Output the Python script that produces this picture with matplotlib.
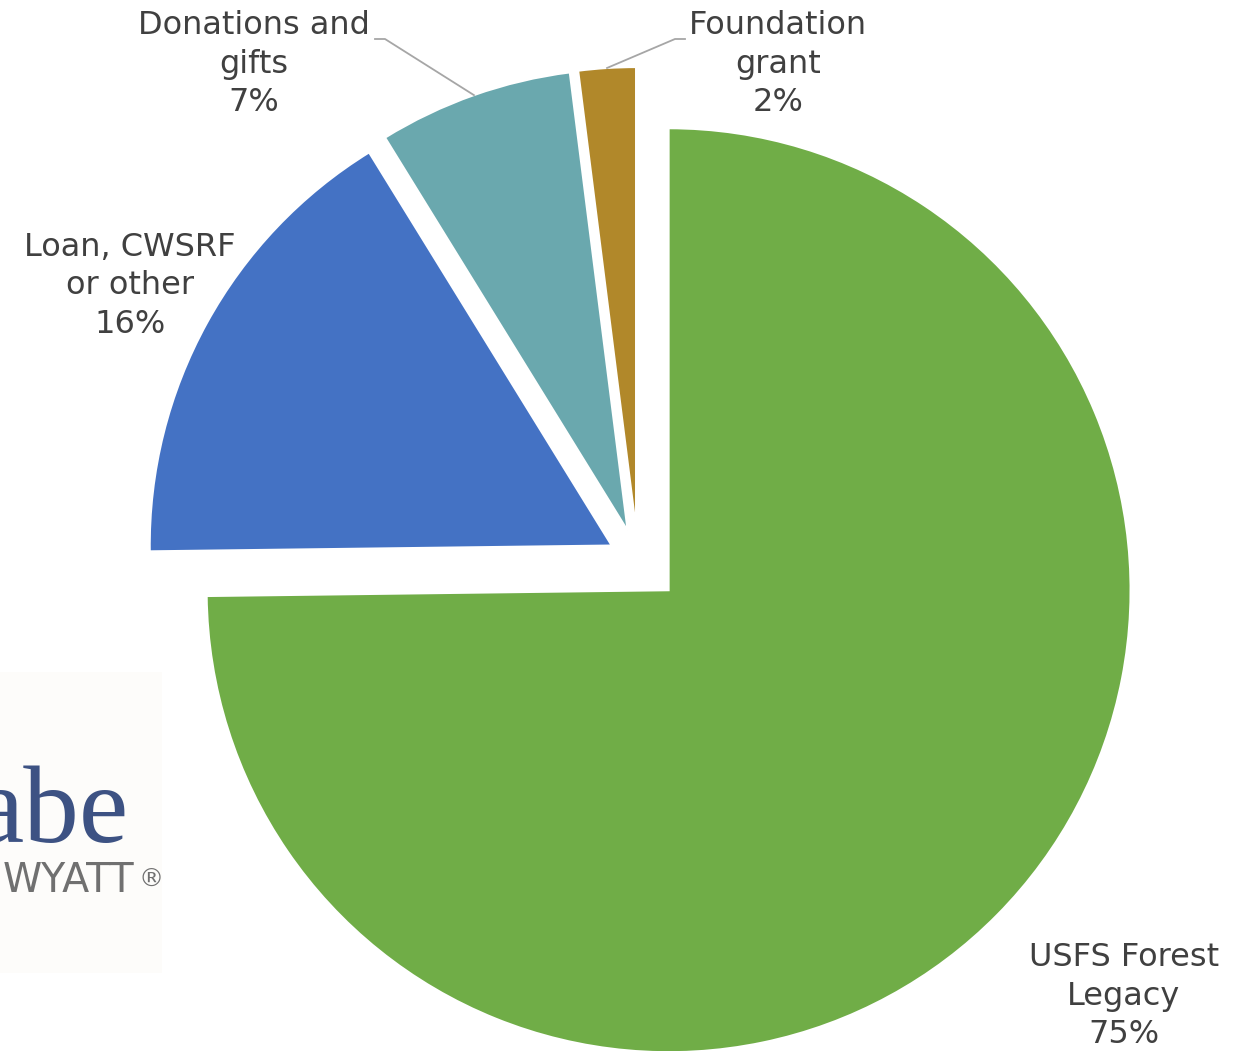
import numpy as np
import matplotlib
matplotlib.use("Agg")
import matplotlib.pyplot as plt
from matplotlib.patches import Rectangle

# funding sources (share of total, %)
labels = ["USFS Forest\nLegacy", "Loan, CWSRF\nor other", "Donations and\ngifts", "Foundation\ngrant"]
values = [74.8, 16.4, 6.8, 2.0]
pct_text = ["75%", "16%", "7%", "2%"]
colors = ["#70AD47", "#4472C4", "#6AA8AE", "#B1882A"]

W, H = 1250, 1051
R = 462
explode_px = [43, 30, 31, 31]   # pie explode is in data units (= px here)

fig = plt.figure(figsize=(12.5, 10.51), dpi=100)
ax = fig.add_axes([0, 0, 1, 1])

# faint logo backdrop + cut-off logo text
ax.add_patch(Rectangle((0, H - 973), 162, 301, facecolor="#FDFCFA", edgecolor="none", zorder=0))
ax.text(128, H - 842, "abe", family=["Liberation Serif", "DejaVu Serif"], fontsize=80,
        color="#3D5283", ha="right", va="baseline", zorder=1)
ax.text(3, H - 892, "WYATT", family=["DejaVu Sans"], fontsize=28.5, color="#707070",
        ha="left", va="baseline", zorder=1)
ax.text(151, H - 880, "\u00ae", family=["DejaVu Sans"], fontsize=18, color="#707070",
        ha="center", va="center", zorder=1)

wedges, _ = ax.pie(values, explode=explode_px, colors=colors,
                   startangle=90, counterclock=False, radius=R, center=(638, H - 560),
                   wedgeprops=dict(edgecolor="white", linewidth=1.5))

txt_kw = dict(fontsize=23, color="#404040", ha="center", va="center",
              linespacing=1.32, family="DejaVu Sans")
label_pos = [(1124, H - 996), (130, H - 286), (254, H - 64), (778, H - 64)]
for lab, p, (x, y) in zip(labels, pct_text, label_pos):
    ax.text(x, y, lab + "\n" + p, **txt_kw)

# leader lines for the two small slices
def arc_mid(w):
    a = np.deg2rad((w.theta1 + w.theta2) / 2)
    cx, cy = w.center
    return cx + w.r * np.cos(a), cy + w.r * np.sin(a)

px, py = arc_mid(wedges[2])
ax.plot([px, 385, 375], [py, H - 39, H - 39], color="#A6A6A6", lw=1.3)
px, py = arc_mid(wedges[3])
ax.plot([px, 675, 685], [py, H - 39, H - 39], color="#A6A6A6", lw=1.3)

ax.set_xlim(0, W)
ax.set_ylim(0, H)
ax.set_aspect("equal")
ax.axis("off")

fig.savefig("out.png", dpi=100, facecolor="white")
